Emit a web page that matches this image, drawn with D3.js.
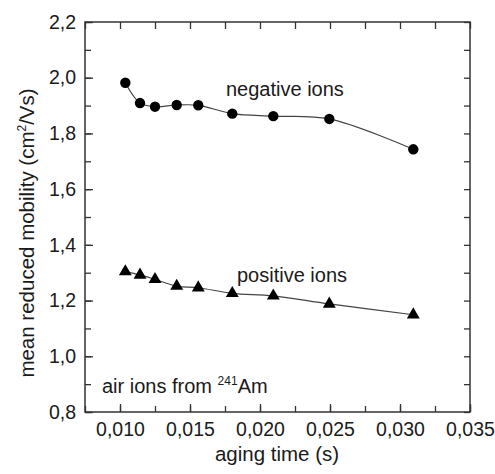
<!DOCTYPE html>
<html><head><meta charset="utf-8">
<script src="https://cdn.jsdelivr.net/npm/d3@7"></script>
<style>body{margin:0;background:#fff}svg{display:block}text{font-family:"Liberation Sans",Arial,sans-serif;fill:#1a1a1a}</style>
</head><body><div id="c"></div>
<script>
const agingTime = [0.01038, 0.01143, 0.0125, 0.01405, 0.01559, 0.01802, 0.02095, 0.02495, 0.03095];
const negativeIons = [1.982, 1.909, 1.896, 1.902, 1.901, 1.871, 1.862, 1.852, 1.743];
const positiveIons = [1.304, 1.292, 1.276, 1.252, 1.246, 1.226, 1.217, 1.188, 1.149];
const xTicks = [0.010, 0.015, 0.020, 0.025, 0.030, 0.035];
const yTicks = [0.8, 1.0, 1.2, 1.4, 1.6, 1.8, 2.0, 2.2];

const W = 495, H = 474;
const m = {l:85, t:22, r:470, b:412};
const svg = d3.select("#c").append("svg").attr("width", W).attr("height", H);
const x = d3.scaleLinear().domain([0.0075, 0.035]).range([m.l, m.r]);
const y = d3.scaleLinear().domain([0.8, 2.2]).range([m.b, m.t]);
const fmtX = d => d3.format(".3f")(d).replace(".", ",");
const fmtY = d => d3.format(".1f")(d).replace(".", ",");
const xMinor = d3.range(0.0075, 0.0351, 0.0025);
const yMinor = d3.range(0.8, 2.21, 0.1);

const axisColor = "#333";
function styleAxis(g){ g.select(".domain").remove(); g.selectAll("line").attr("stroke", axisColor).attr("stroke-width", 1.3); g.selectAll("text").attr("font-size", 19.5).attr("fill", "#1a1a1a").attr("font-family", "Liberation Sans, Arial, sans-serif"); }

// bottom
svg.append("g").attr("transform", `translate(0,${m.b})`)
  .call(d3.axisBottom(x).tickValues(xMinor).tickSize(-6).tickFormat(""))
  .call(styleAxis);
svg.append("g").attr("transform", `translate(0,${m.b})`)
  .call(d3.axisBottom(x).tickValues(xTicks).tickSize(-8).tickPadding(10).tickFormat(fmtX))
  .call(styleAxis);
// top
svg.append("g").attr("transform", `translate(0,${m.t})`)
  .call(d3.axisTop(x).tickValues(xMinor).tickSize(-7).tickFormat(""))
  .call(styleAxis);
// left
svg.append("g").attr("transform", `translate(${m.l},0)`)
  .call(d3.axisLeft(y).tickValues(yMinor).tickSize(-6).tickFormat(""))
  .call(styleAxis);
svg.append("g").attr("transform", `translate(${m.l},0)`)
  .call(d3.axisLeft(y).tickValues(yTicks).tickSize(-8).tickPadding(9).tickFormat(fmtY))
  .call(styleAxis);
// right
svg.append("g").attr("transform", `translate(${m.r},0)`)
  .call(d3.axisRight(y).tickValues(yMinor).tickSize(-6).tickFormat(""))
  .call(styleAxis);

svg.append("rect").attr("x", m.l).attr("y", m.t).attr("width", m.r-m.l).attr("height", m.b-m.t)
  .attr("fill", "none").attr("stroke", axisColor).attr("stroke-width", 1.5);

const line = d3.line().curve(d3.curveCatmullRom.alpha(0.5));
const negPts = agingTime.map((t,i)=>[x(t), y(negativeIons[i])]);
const posPts = agingTime.map((t,i)=>[x(t), y(positiveIons[i])]);
svg.append("path").attr("d", line(negPts)).attr("fill","none").attr("stroke","#444").attr("stroke-width",1.2);
svg.append("path").attr("d", line(posPts)).attr("fill","none").attr("stroke","#444").attr("stroke-width",1.2);

svg.selectAll("circle.n").data(negPts).enter().append("circle")
  .attr("cx", d=>d[0]).attr("cy", d=>d[1]).attr("r", 5.2).attr("fill", "#000");
const tri = d3.symbol().type(d3.symbolTriangle).size(72);
svg.selectAll("path.p").data(posPts).enter().append("path")
  .attr("d", tri).attr("transform", d=>`translate(${d[0]},${d[1]})`).attr("fill", "#000");

svg.append("text").attr("x", 226).attr("y", 96).attr("font-size", 20).text("negative ions");
svg.append("text").attr("x", 237).attr("y", 282).attr("font-size", 20).text("positive ions");
const t = svg.append("text").attr("x", 102).attr("y", 393).attr("font-size", 20);
t.append("tspan").text("air ions from ");
t.append("tspan").attr("font-size", 12).attr("dy", -8).text("241");
t.append("tspan").attr("dy", 8).text("Am");

svg.append("text").attr("x", 277).attr("y", 461).attr("text-anchor","middle").attr("font-size", 20.5).text("aging time (s)");
const yt = svg.append("text").attr("transform", `translate(34,233) rotate(-90)`).attr("text-anchor","middle").attr("font-size", 20.5);
yt.append("tspan").text("mean reduced mobility (cm");
yt.append("tspan").attr("font-size", 12).attr("dy", -8).text("2");
yt.append("tspan").attr("dy", 8).text("/Vs)");
</script></body></html>
